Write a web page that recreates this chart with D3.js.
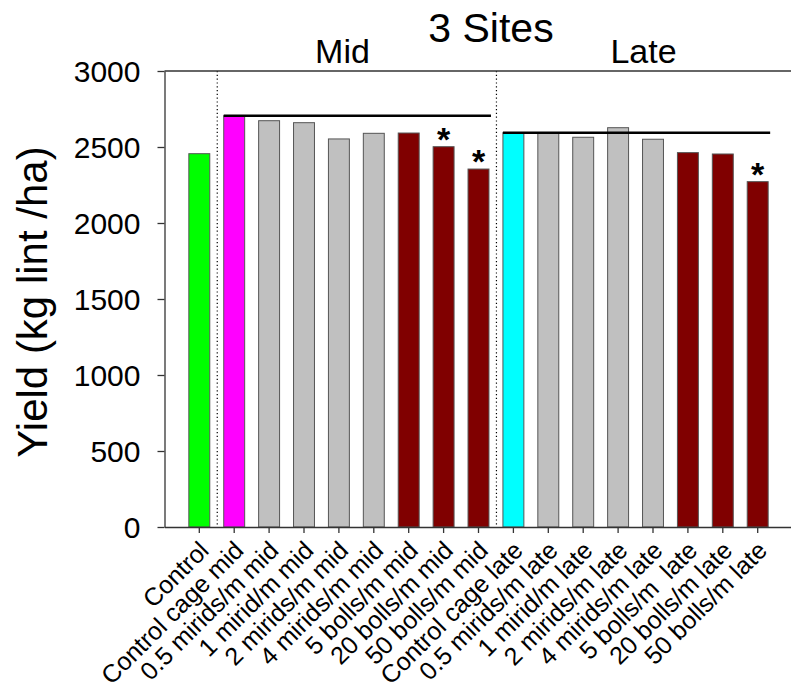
<!DOCTYPE html>
<html>
<head>
<meta charset="utf-8">
<script src="https://cdn.jsdelivr.net/npm/d3@7"></script>
<style>
  body { margin: 0; background: #fff; }
  svg text { font-family: "Liberation Sans", Arial, sans-serif; fill: #000; }
</style>
</head>
<body>
<div id="chart"></div>
<script>
const categories = [
    "Control", "Control cage mid", "0.5 mirids/m mid", "1 mirid/m mid", "2 mirids/m mid",
    "4 mirids/m mid", "5 bolls/m mid", "20 bolls/m mid", "50 bolls/m mid",
    "Control cage late", "0.5 mirids/m late", "1 mirid/m late", "2 mirids/m late",
    "4 mirids/m late", "5 bolls/m  late", "20 bolls/m late", "50 bolls/m late"
];
const yields = [2456, 2706, 2673, 2660, 2553, 2590, 2592, 2502, 2355,
                2594, 2594, 2564, 2627, 2551, 2463, 2454, 2272];
const barColors = ["#00ff00", "#ff00ff", "#c0c0c0", "#c0c0c0", "#c0c0c0", "#c0c0c0", "#800000", "#800000", "#800000",
                   "#00ffff", "#c0c0c0", "#c0c0c0", "#c0c0c0", "#c0c0c0", "#800000", "#800000", "#800000"];
const significant = ["20 bolls/m mid", "50 bolls/m mid", "50 bolls/m late"];
const yTicks = [0, 500, 1000, 1500, 2000, 2500, 3000];
// groups: first / last category, the reference value comes from the cage control
const groups = [
    { name: "Mid", first: "Control cage mid", last: "50 bolls/m mid" },
    { name: "Late", first: "Control cage late", last: "50 bolls/m late" }
];

const W = 791, H = 688;
const plot = { left: 164.5, top: 71, bottom: 527, right: 791 };

const svg = d3.select("#chart").append("svg")
    .attr("width", W).attr("height", H);

const x = d3.scaleBand()
    .domain(categories)
    .range([164.4, 792.6])
    .paddingInner(0.4)
    .paddingOuter(0.7);

const y = d3.scaleLinear()
    .domain([0, 3000])
    .range([plot.bottom, plot.top]);

const data = categories.map((c, i) => ({ cat: c, value: yields[i], color: barColors[i] }));

// bars
svg.append("g")
    .selectAll("rect")
    .data(data)
    .enter().append("rect")
    .attr("x", d => x(d.cat))
    .attr("y", d => y(d.value))
    .attr("width", x.bandwidth())
    .attr("height", d => y(0) - y(d.value))
    .attr("fill", d => d.color)
    .attr("stroke", "#555")
    .attr("stroke-width", 1);

// dotted separators
const sepAfter = ["Control", "50 bolls/m mid"];
svg.append("g")
    .selectAll("line")
    .data(sepAfter)
    .enter().append("line")
    .attr("x1", d => x(d) + x.bandwidth() + x.step() * x.paddingInner() / 2 + 0.5)
    .attr("x2", d => x(d) + x.bandwidth() + x.step() * x.paddingInner() / 2 + 0.5)
    .attr("y1", plot.top)
    .attr("y2", plot.bottom)
    .attr("stroke", "#000")
    .attr("stroke-width", 1.2)
    .attr("stroke-dasharray", "1.2,2.6");

// reference lines at control cage level
svg.append("g")
    .selectAll("line")
    .data(groups)
    .enter().append("line")
    .attr("x1", d => x(d.first))
    .attr("x2", d => x(d.last) + x.bandwidth() + 2)
    .attr("y1", d => y(yields[categories.indexOf(d.first)]))
    .attr("y2", d => y(yields[categories.indexOf(d.first)]))
    .attr("stroke", "#000")
    .attr("stroke-width", 2.6);

// stars
svg.append("g")
    .selectAll("text")
    .data(data.filter(d => significant.includes(d.cat)))
    .enter().append("text")
    .attr("x", d => x(d.cat) + x.bandwidth() / 2)
    .attr("y", d => y(d.value) + 4)
    .attr("text-anchor", "middle")
    .style("font-size", "34px")
    .style("font-weight", "bold")
    .text("*");

// y axis
const yAxis = svg.append("g")
    .attr("transform", "translate(" + plot.left + ",0)")
    .call(d3.axisLeft(y).tickValues(yTicks).tickFormat(d3.format("d"))
        .tickSize(7).tickSizeOuter(0).tickPadding(17));
yAxis.selectAll("path, line").attr("stroke", "#333").attr("stroke-width", 1.3);
yAxis.selectAll("text").style("font-size", "30px").attr("dy", "0.36em");

// x axis
const xAxis = svg.append("g")
    .attr("transform", "translate(0," + plot.bottom + ")")
    .call(d3.axisBottom(x).tickSize(6).tickSizeOuter(0));
xAxis.selectAll("path, line").attr("stroke", "#333").attr("stroke-width", 1.3);
xAxis.selectAll("text")
    .attr("x", 0).attr("y", 0).attr("dy", 0)
    .attr("text-anchor", "end")
    .attr("transform", "translate(11,25) rotate(-45)")
    .style("font-size", "25px")
    .style("white-space", "pre");

// top border
svg.append("line")
    .attr("x1", plot.left).attr("x2", plot.right)
    .attr("y1", plot.top).attr("y2", plot.top)
    .attr("stroke", "#333").attr("stroke-width", 1.3);

// titles
svg.append("text")
    .attr("x", 491).attr("y", 42)
    .attr("text-anchor", "middle")
    .style("font-size", "41px")
    .text("3 Sites");

svg.append("text")
    .attr("x", 342.5).attr("y", 63)
    .attr("text-anchor", "middle")
    .style("font-size", "34px")
    .text("Mid");

svg.append("text")
    .attr("x", 643.5).attr("y", 63)
    .attr("text-anchor", "middle")
    .style("font-size", "34px")
    .text("Late");

svg.append("text")
    .attr("transform", "translate(47,302) rotate(-90)")
    .attr("text-anchor", "middle")
    .style("font-size", "42px")
    .text("Yield (kg lint /ha)");
</script>
</body>
</html>
